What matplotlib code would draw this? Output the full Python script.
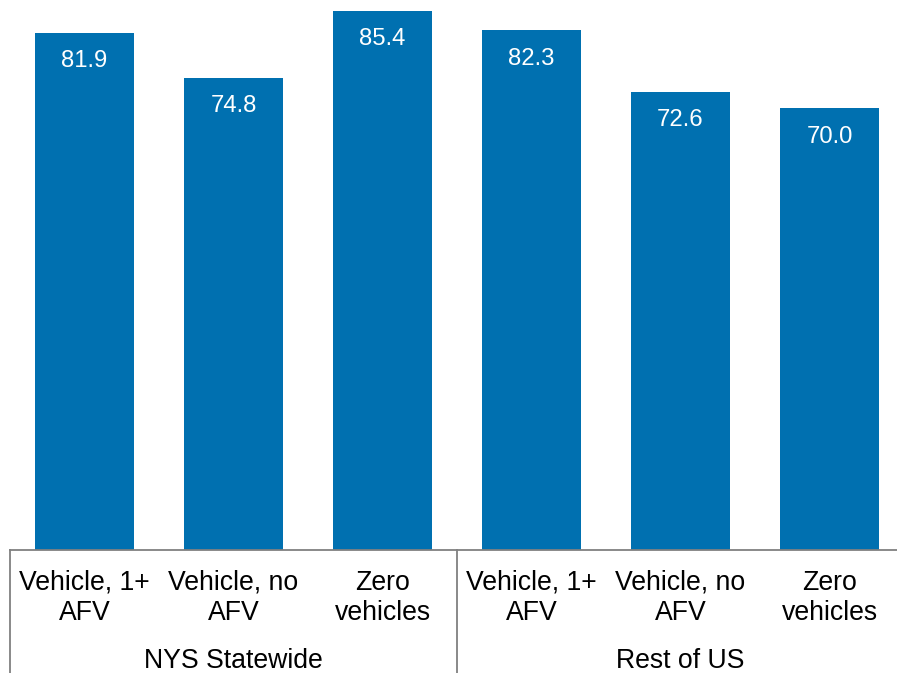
import matplotlib
matplotlib.use("Agg")
import matplotlib.pyplot as plt
from matplotlib.lines import Line2D
from matplotlib.transforms import blended_transform_factory

categories = ["Vehicle, 1+\nAFV", "Vehicle, no\nAFV", "Zero\nvehicles",
              "Vehicle, 1+\nAFV", "Vehicle, no\nAFV", "Zero\nvehicles"]
values = [81.9, 74.8, 85.4, 82.3, 72.6, 70.0]
groups = ["NYS Statewide", "Rest of US"]
group_size = 3

plt.rcParams['font.family'] = ['Liberation Sans', 'DejaVu Sans']

W, H = 897, 673
fig = plt.figure(figsize=(W / 100, H / 100), dpi=100)
base_px = 550
left_px = 10
right_px = 904
ax = fig.add_axes([left_px / W, (H - base_px) / H, (right_px - left_px) / W, base_px / H])

x = list(range(len(values)))
bar_color = "#0070B0"
ax.bar(x, values, width=0.665, color=bar_color)
ax.set_xlim(-0.5, len(values) - 0.5)
ax.set_ylim(0, 87.12)
ax.set_xticks([])
ax.set_yticks([])
for s in ["top", "left", "right"]:
    ax.spines[s].set_visible(False)
ax.spines["bottom"].set_color("#808080")
ax.spines["bottom"].set_linewidth(1.3)

# value labels inside bars
for xi, v in zip(x, values):
    ax.annotate(f"{v:.1f}", (xi, v), xytext=(0, -20.5), textcoords="offset points",
                ha="center", va="center", color="white", fontsize=17.2)

tr = blended_transform_factory(ax.transData, fig.transFigure)
for xi, c in zip(x, categories):
    ax.text(xi, 1 - 598 / H, c, transform=tr, ha="center", va="center",
            fontsize=19.2, linespacing=1.24, clip_on=False)

for gi, g in enumerate(groups):
    center = gi * group_size + (group_size - 1) / 2
    ax.text(center, 1 - 661 / H, g, transform=tr, ha="center", va="center",
            fontsize=19.2, clip_on=False)

# separator lines
for b in range(len(groups) + 1):
    xb = b * group_size - 0.5
    ln = Line2D([xb, xb], [0, (H - base_px) / H], transform=tr, color="#808080",
                linewidth=1.3, clip_on=False)
    ax.add_line(ln)

fig.savefig("out.png", dpi=100)
